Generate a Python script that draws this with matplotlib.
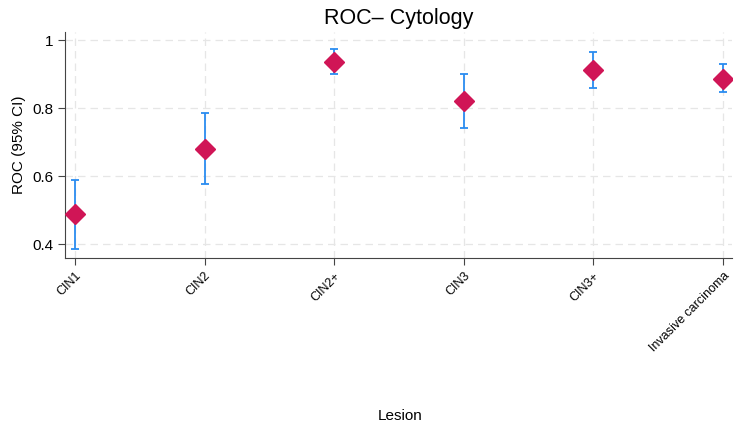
import matplotlib.pyplot as plt

plt.rcParams['font.family'] = ['Liberation Sans', 'DejaVu Sans']

lesions = ['CIN1', 'CIN2', 'CIN2+', 'CIN3', 'CIN3+', 'Invasive carcinoma']
roc = [0.488, 0.680, 0.935, 0.820, 0.913, 0.887]
ci_low = [0.387, 0.576, 0.901, 0.741, 0.859, 0.846]
ci_high = [0.588, 0.786, 0.973, 0.900, 0.966, 0.929]

x = list(range(len(lesions)))
err_lo = [r - l for r, l in zip(roc, ci_low)]
err_hi = [h - r for r, h in zip(roc, ci_high)]

fig = plt.figure(figsize=(7.38, 4.26), dpi=100)
ax = fig.add_axes([0.088, 0.394, 0.904, 0.531])

ax.errorbar(x, roc, yerr=[err_lo, err_hi], fmt='none', ecolor='#2a8cf0',
            elinewidth=1.3, capsize=3, capthick=1.3, zorder=2)
ax.plot(x, roc, linestyle='none', marker='D', markersize=10,
        color='#d01556', zorder=3)

ax.set_xlim(-0.077, 5.07)
ax.set_ylim(0.359, 1.024)
ax.set_yticks([0.4, 0.6, 0.8, 1.0])
ax.set_yticklabels(['0.4', '0.6', '0.8', '1'], fontsize=11)
ax.set_xticks(x)
ax.set_xticklabels(lesions, rotation=45, ha='right', rotation_mode='anchor',
                   fontsize=9)

ax.grid(True, color='#e6e6e6', linestyle=(0, (6, 4)), linewidth=0.9)
ax.set_axisbelow(True)
for s in ['top', 'right']:
    ax.spines[s].set_visible(False)
ax.spines['left'].set_color('#444444')
ax.spines['bottom'].set_color('#444444')
ax.tick_params(color='#444444', length=5)

ax.set_ylabel('ROC (95% CI)', fontsize=11)
ax.set_title('ROC\u2013 Cytology', fontsize=15.5, pad=6)
fig.text(0.542, 0.015, 'Lesion', ha='center', va='baseline', fontsize=11)

fig.savefig('out.png', dpi=100)
